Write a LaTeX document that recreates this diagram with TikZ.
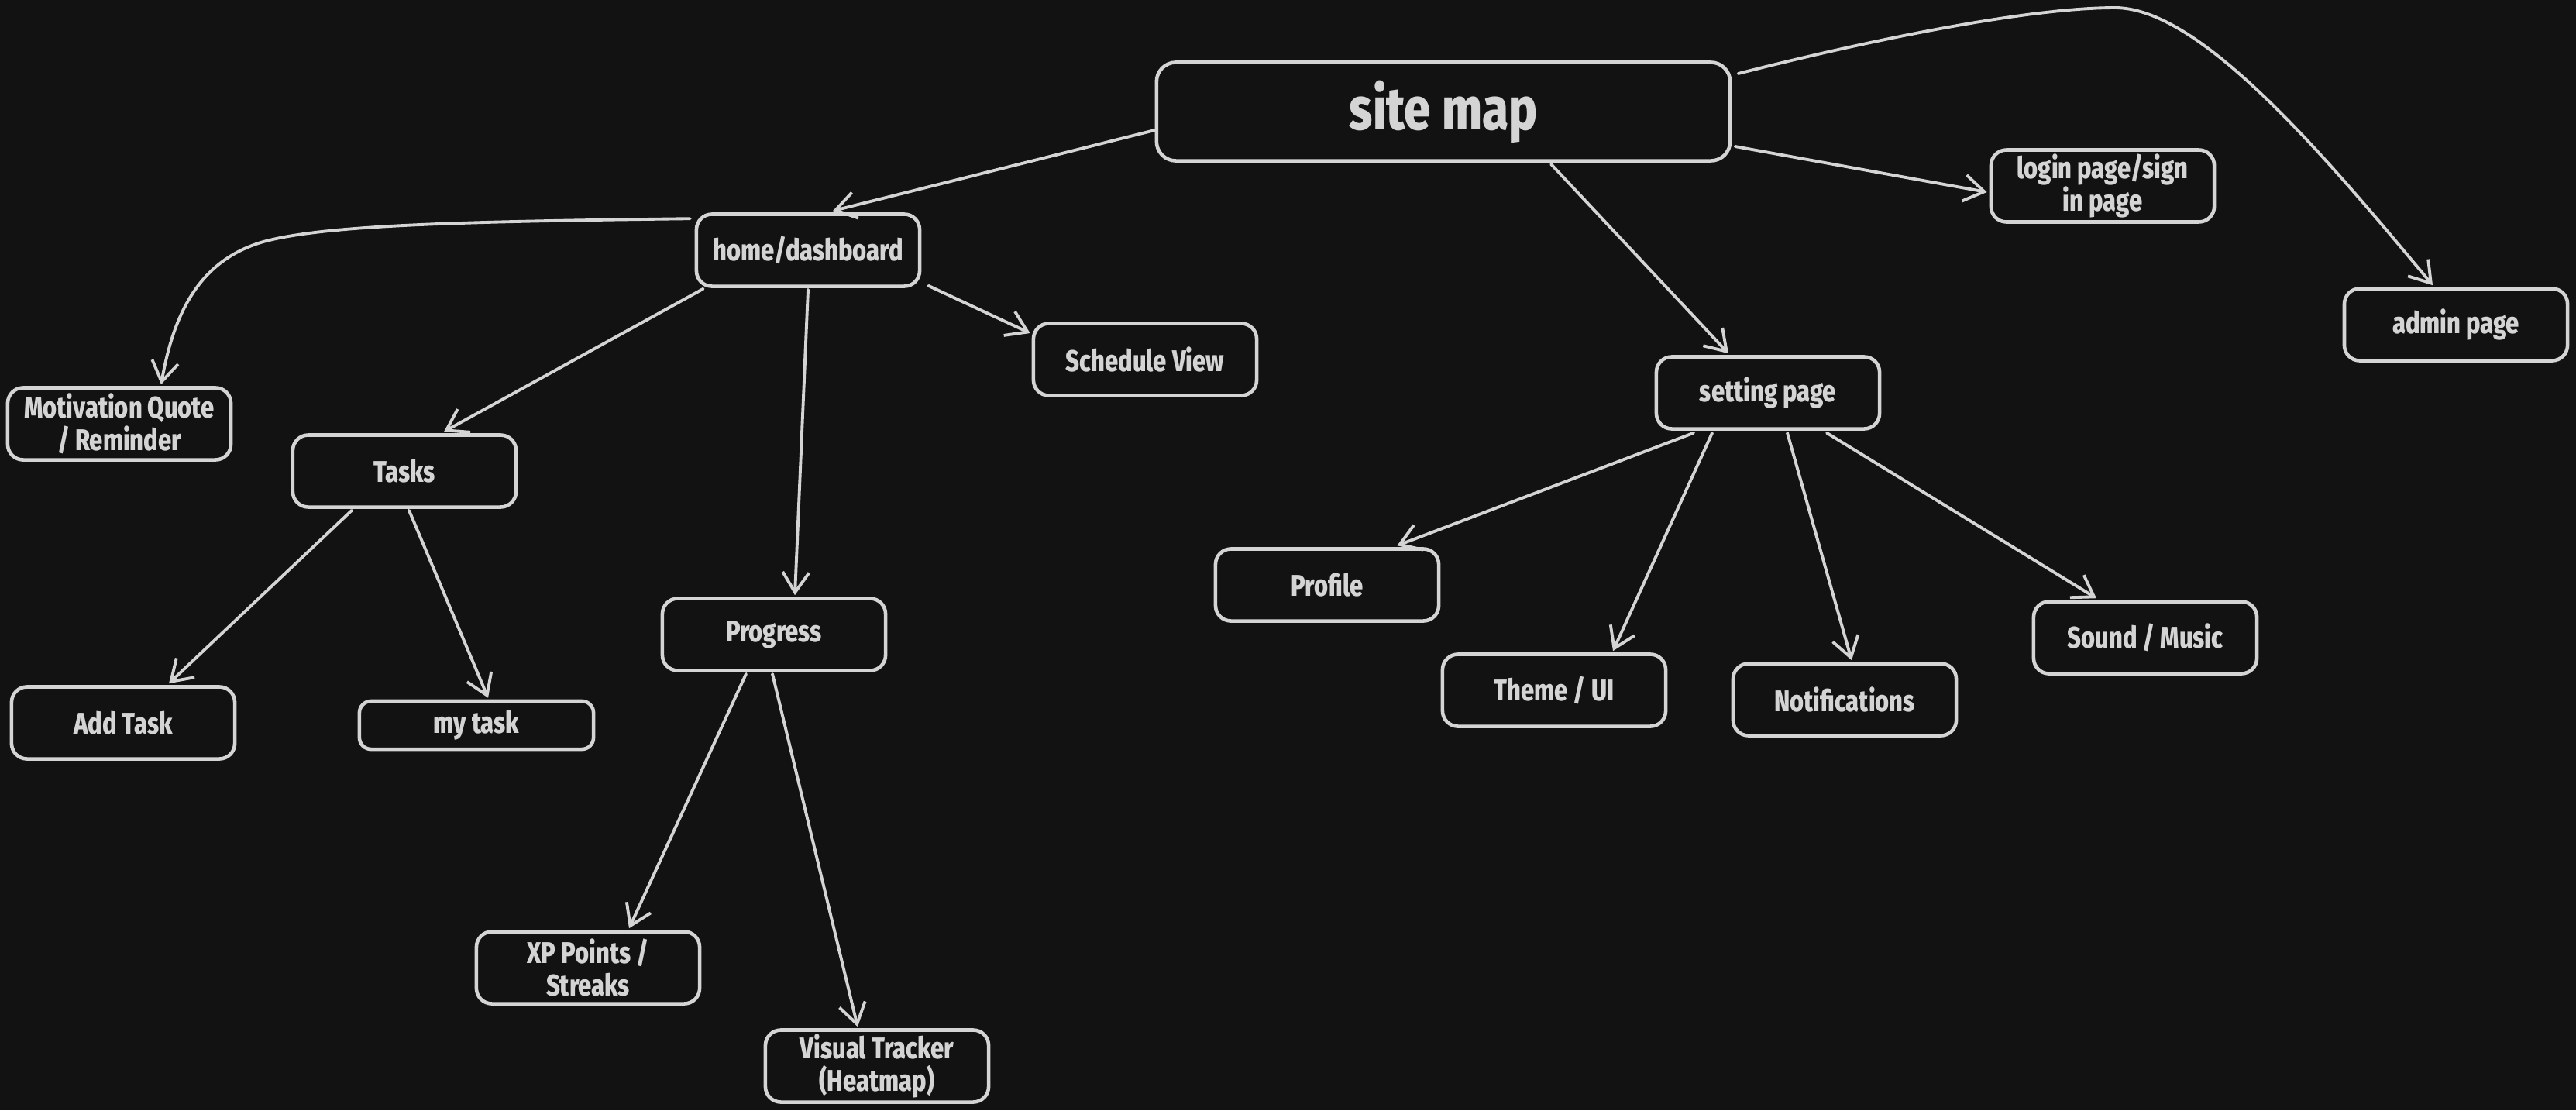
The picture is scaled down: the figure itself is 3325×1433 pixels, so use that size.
\documentclass[tikz,border=0pt]{standalone}
\usepackage{fontspec}
\setmainfont{Fira Sans}[FakeStretch=0.80, BoldFont={Fira Sans ExtraBold}]
\usetikzlibrary{arrows.meta,calc}
\definecolor{bg}{HTML}{121212}
\definecolor{fg}{HTML}{D4D4D4}
\begin{document}
\begin{tikzpicture}[x=0.01cm,y=-0.01cm,
  box/.style={draw=fg, line width=1.3pt, rounded corners=0.2cm, fill=bg, text=fg,
    font=\bfseries\fontsize{11}{12}\selectfont, align=center,
    minimum width=2.88cm, minimum height=0.93cm, inner sep=0pt},
  conn/.style={draw=fg, line width=1.1pt, line cap=round,
    -{Straight Barb[length=0.26cm,width=0.34cm,line width=1.1pt]}}]
\fill[bg] (0,0) rectangle (3325,1433);
\useasboundingbox (0,0) rectangle (3325,1433);

\node[box, minimum width=7.4cm, minimum height=1.27cm, rounded corners=0.25cm,
  font=\bfseries\fontsize{22}{24}\selectfont] (sitemap) at (1863,144) {site map};
\node[box] (home) at (1043,323) {home/dashboard};
\node[box] (login) at (2714,240) {login page/sign\\in page};
\node[box] (admin) at (3170,419) {admin page};
\node[box] (motiv) at (154,547) {Motivation Quote\\/ Reminder};
\node[box] (tasks) at (522,608) {Tasks};
\node[box] (sched) at (1478,464) {Schedule View};
\node[box] (setting) at (2282,507) {setting page};
\node[box] (profile) at (1713,755) {Profile};
\node[box] (progress) at (999,819) {Progress};
\node[box] (addtask) at (159,933) {Add Task};
\node[box, minimum width=3.02cm, minimum height=0.62cm, rounded corners=0.15cm] (mytask) at (615,936) {my task};
\node[box] (theme) at (2006,891) {Theme / UI};
\node[box] (notif) at (2381,903) {Notifications};
\node[box] (sound) at (2769,823) {Sound / Music};
\node[box] (xp) at (759,1249) {XP Points /\\Streaks};
\node[box] (visual) at (1132,1376) {Visual Tracker\\(Heatmap)};

% connectors
\draw[conn] ($(sitemap.west)+(0,24)$) -- ($(home.north)+(32,-2)$);
\draw[conn] ($(sitemap.east)+(4,45)$) -- ($(login.west)+(-3,8)$);
\draw[conn] ($(sitemap.east)+(8,-49)$) .. controls (2420,50) and (2620,10) .. (2730,10)
  .. controls (2840,10) and (3000,200) .. ($(admin.north)+(-30,-2)$);
\draw[conn] ($(sitemap.south)+(139,2)$) -- ($(setting.north)+(-51,-2)$);
\draw[conn] ($(home.north west)+(-6,8)$) .. controls (600,286) and (420,290) .. (340,312)
  .. controls (260,335) and (225,400) .. ($(motiv.north)+(54,-2)$);
\draw[conn] ($(home.south west)+(11,1)$) -- ($(tasks.north)+(51,-2)$);
\draw[conn] ($(home.south)+(0,2)$) -- ($(progress.north)+(27,-2)$);
\draw[conn] ($(home.south east)+(9,-3)$) -- ($(sched.west)+(-2,-34)$);
\draw[conn] ($(tasks.south)+(-68,2)$) -- ($(addtask.north)+(59,-2)$);
\draw[conn] ($(tasks.south)+(6,2)$) -- ($(mytask.north)+(15,-2)$);
\draw[conn] ($(progress.south)+(-36,2)$) -- ($(xp.north)+(53,-2)$);
\draw[conn] ($(progress.south)+(-2,2)$) -- ($(visual.north)+(-25,-2)$);
\draw[conn] ($(setting.south)+(-96,3)$) -- ($(profile.north east)+(-56,-2)$);
\draw[conn] ($(setting.south)+(-72,3)$) -- ($(theme.north)+(76,-2)$);
\draw[conn] ($(setting.south)+(25,3)$) -- ($(notif.north)+(9,-2)$);
\draw[conn] ($(setting.south)+(76,3)$) -- ($(sound.north)+(-63,-2)$);
\end{tikzpicture}
\end{document}
